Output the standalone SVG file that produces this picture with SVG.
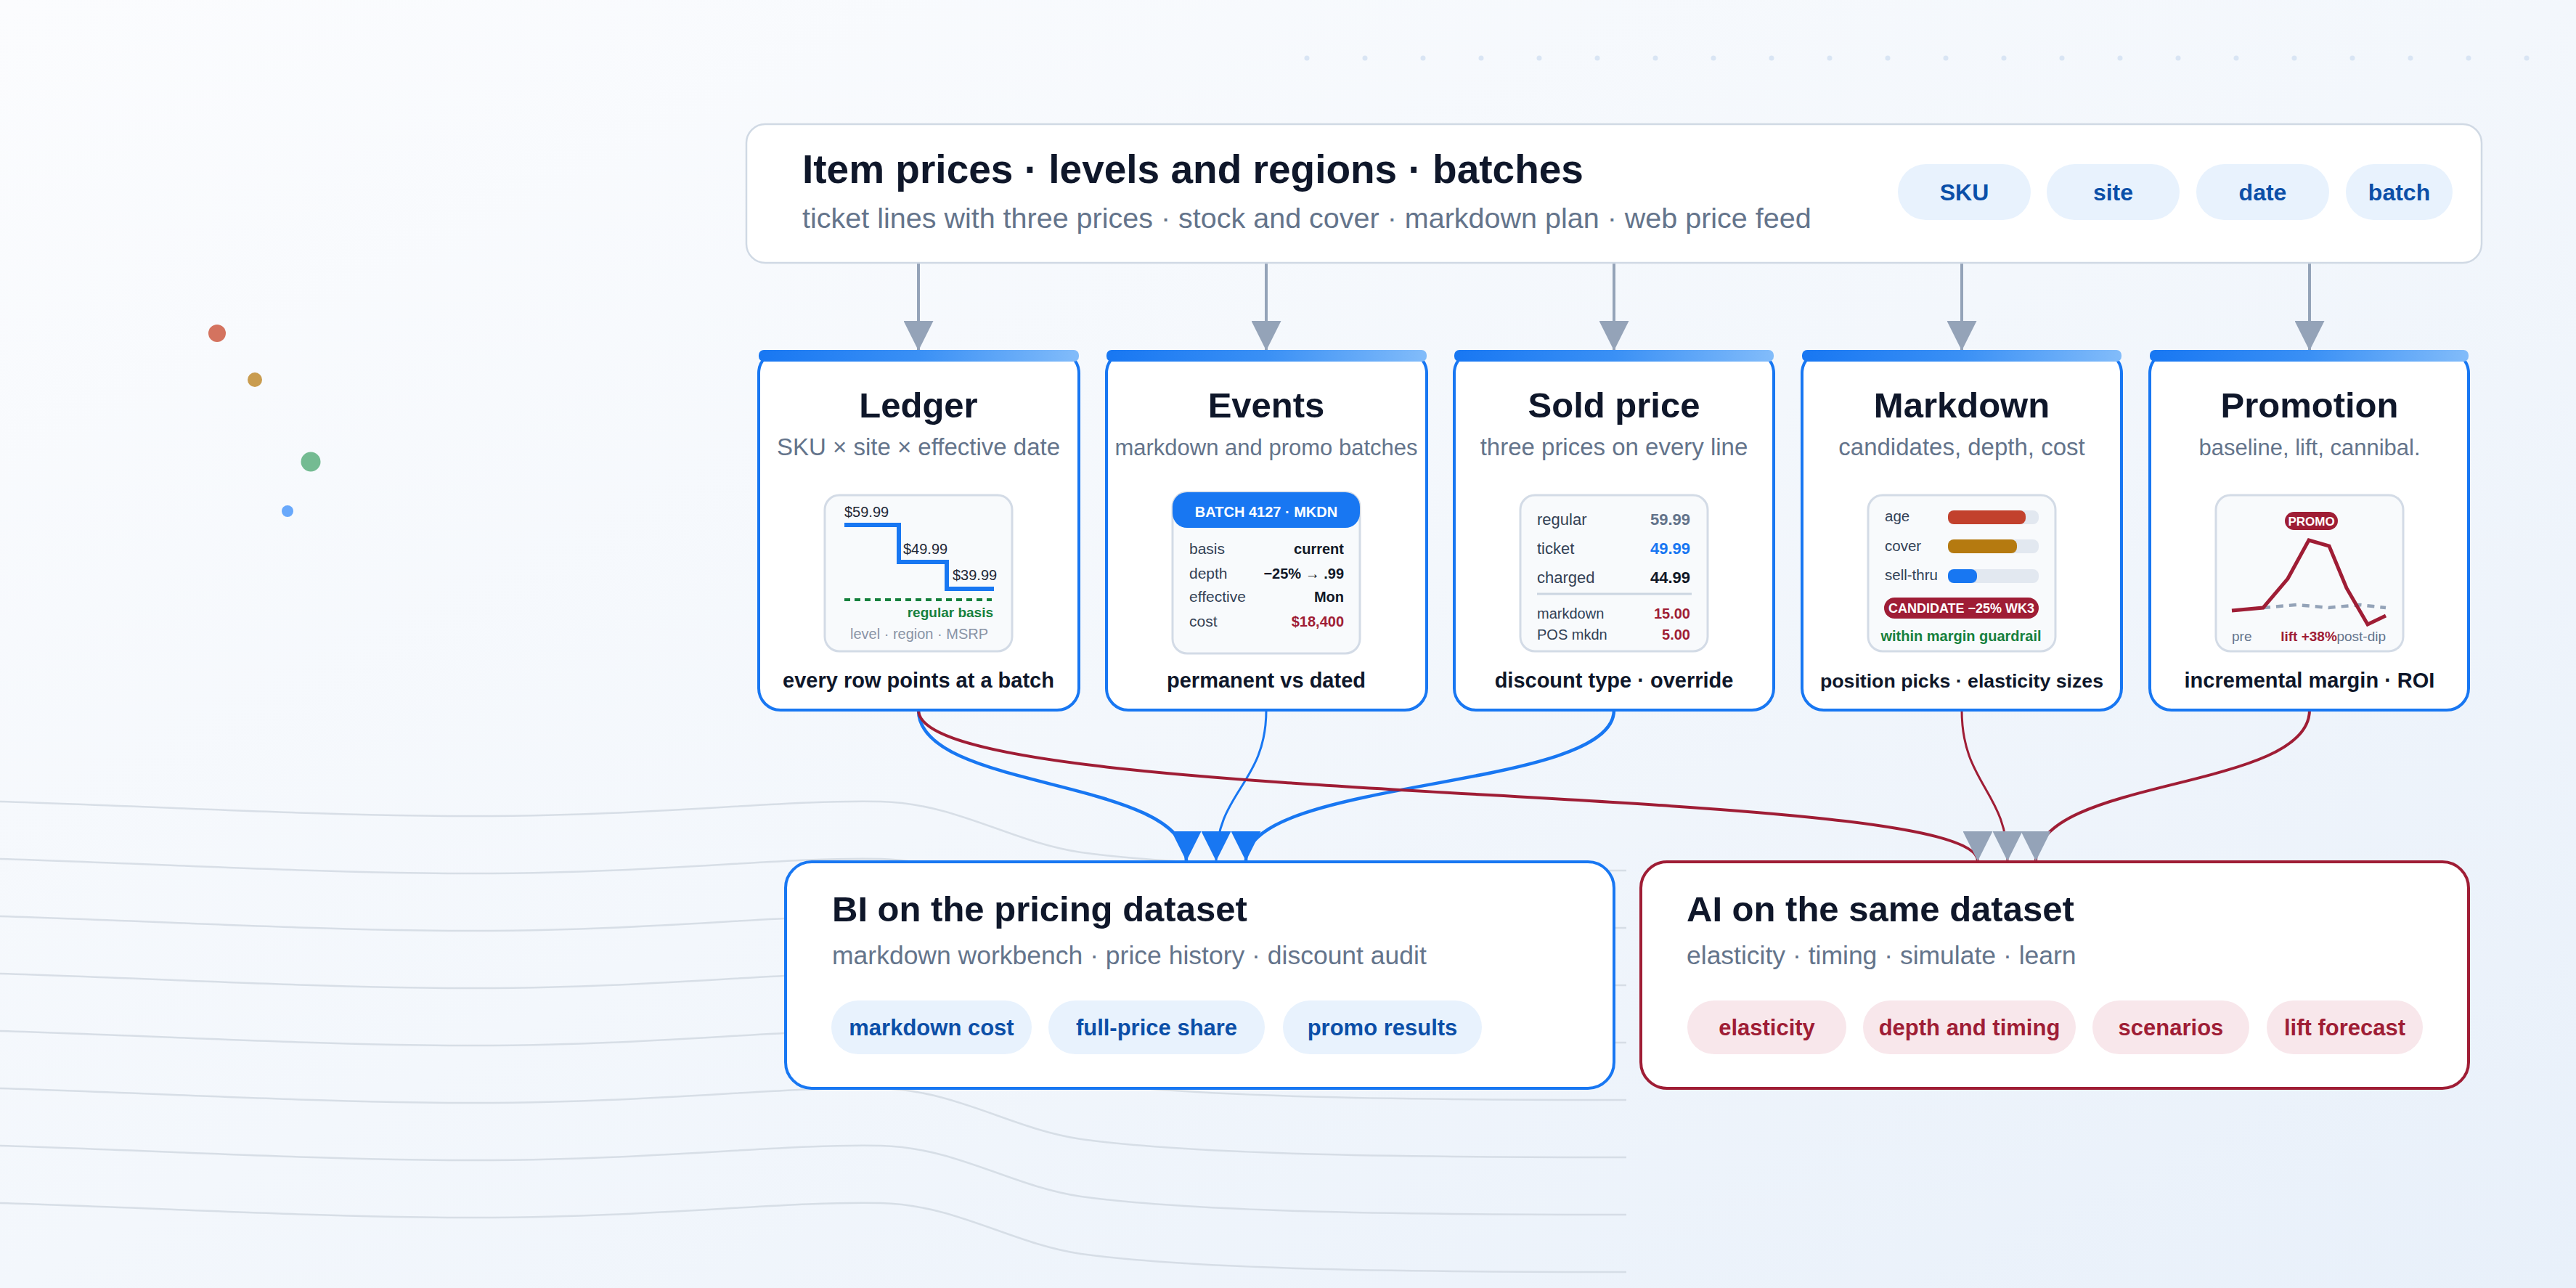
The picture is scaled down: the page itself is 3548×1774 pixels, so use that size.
<svg xmlns="http://www.w3.org/2000/svg" width="3548" height="1774" viewBox="0 0 3548 1774">
<defs>
<linearGradient id="bg" x1="0" y1="0" x2="1" y2="1">
<stop offset="0" stop-color="#fbfcfe"/>
<stop offset="0.5" stop-color="#f3f7fc"/>
<stop offset="1" stop-color="#e8f0fa"/>
</linearGradient>
<linearGradient id="bar" x1="0" y1="0" x2="1" y2="0">
<stop offset="0" stop-color="#1877f2"/>
<stop offset="0.5" stop-color="#3a90f5"/>
<stop offset="1" stop-color="#82bcfa"/>
</linearGradient>
<clipPath id="waveclip"><rect x="0" y="0" width="2240" height="1774"/></clipPath>
<marker id="ahGray" viewBox="0 0 10 10" markerUnits="userSpaceOnUse" markerWidth="41" markerHeight="41" refX="10" refY="5" orient="auto">
<path d="M0,0 L10,5 L0,10 z" fill="#94a3b8"/>
</marker>
<marker id="ahBlue" viewBox="0 0 10 10" markerUnits="userSpaceOnUse" markerWidth="41" markerHeight="41" refX="10" refY="5" orient="auto">
<path d="M0,0 L10,5 L0,10 z" fill="#1877f2"/>
</marker>
<path id="wv" d="M0,0 C250,8 450,20 650,20 C900,20 1080,-3 1213,0 C1320,3 1390,55 1489,70 C1650,92 1950,95 2240,95"/>
<style>
text { font-family: "Liberation Sans", Arial, Helvetica, sans-serif; }
.h1 { font-size: 55px; font-weight: 700; fill: #0f172a; }
.h1s { font-size: 39.5px; fill: #64748b; }
.chipb { fill: #e8f2fd; }
.chipr { fill: #f8e7eb; }
.chipbt { font-size: 32px; font-weight: 700; fill: #0b4fa8; text-anchor: middle; }
.chipbt2 { font-size: 31px; font-weight: 700; fill: #0b4fa8; text-anchor: middle; }
.chiprt { font-size: 31px; font-weight: 700; fill: #9f1d35; text-anchor: middle; }
.card { fill: #ffffff; stroke: #1877f2; stroke-width: 4; }
.bar { fill: url(#bar); }
.ct { font-size: 49px; font-weight: 700; fill: #0f172a; text-anchor: middle; }
.cs { fill: #64748b; text-anchor: middle; }
.cc { font-weight: 700; fill: #0f172a; text-anchor: middle; }
.panel { fill: #f8fafc; stroke: #d3dbe6; stroke-width: 3; }
.lbl { fill: #334155; }
.val { font-weight: 700; text-anchor: end; }
.bt { font-size: 49px; font-weight: 700; fill: #0f172a; }
.bs { font-size: 35.5px; fill: #64748b; }
.wave { fill: none; stroke: #cdd5df; stroke-width: 2.5; opacity: 0.75; }
.conn { fill: none; }
.top { stroke: #94a3b8; stroke-width: 4; marker-end: url(#ahGray); }
.blue { stroke: #1877f2; marker-end: url(#ahBlue); }
.crim { stroke: #9f1d35; marker-end: url(#ahGray); }
</style>
</defs>

<rect x="0" y="0" width="3548" height="1774" fill="url(#bg)"/>

<g id="decor-dots" fill="#d9e5f4">
<circle cx="1800" cy="80" r="3.5"/><circle cx="1880" cy="80" r="3.5"/><circle cx="1960" cy="80" r="3.5"/><circle cx="2040" cy="80" r="3.5"/><circle cx="2120" cy="80" r="3.5"/><circle cx="2200" cy="80" r="3.5"/><circle cx="2280" cy="80" r="3.5"/><circle cx="2360" cy="80" r="3.5"/><circle cx="2440" cy="80" r="3.5"/><circle cx="2520" cy="80" r="3.5"/><circle cx="2600" cy="80" r="3.5"/><circle cx="2680" cy="80" r="3.5"/><circle cx="2760" cy="80" r="3.5"/><circle cx="2840" cy="80" r="3.5"/><circle cx="2920" cy="80" r="3.5"/><circle cx="3000" cy="80" r="3.5"/><circle cx="3080" cy="80" r="3.5"/><circle cx="3160" cy="80" r="3.5"/><circle cx="3240" cy="80" r="3.5"/><circle cx="3320" cy="80" r="3.5"/><circle cx="3400" cy="80" r="3.5"/><circle cx="3480" cy="80" r="3.5"/>
</g>
<g id="decor-color-dots">
<circle cx="299" cy="459" r="12" fill="#d4735f"/>
<circle cx="351" cy="523" r="10" fill="#c99c4f"/>
<circle cx="428" cy="636" r="13.5" fill="#74bb92"/>
<circle cx="396" cy="704" r="8" fill="#68a8fb"/>
</g>
<g id="decor-waves" clip-path="url(#waveclip)">
<use href="#wv" class="wave" transform="translate(0,1104)"/>
<use href="#wv" class="wave" transform="translate(0,1183)"/>
<use href="#wv" class="wave" transform="translate(0,1262)"/>
<use href="#wv" class="wave" transform="translate(0,1341)"/>
<use href="#wv" class="wave" transform="translate(0,1420)"/>
<use href="#wv" class="wave" transform="translate(0,1499)"/>
<use href="#wv" class="wave" transform="translate(0,1578)"/>
<use href="#wv" class="wave" transform="translate(0,1657)"/>
</g>

<g id="connectors" class="conn">
<path class="top" d="M1265,362 L1265,483"/>
<path class="top" d="M1744,362 L1744,483"/>
<path class="top" d="M2223,362 L2223,483"/>
<path class="top" d="M2702,362 L2702,483"/>
<path class="top" d="M3181,362 L3181,483"/>
<path class="blue" stroke-width="4.5" d="M1265,978 C1265,1090 1634,1070 1634,1186"/>
<path class="blue" stroke-width="3" d="M1744,978 C1744,1080 1675,1090 1675,1186"/>
<path class="blue" stroke-width="4.5" d="M2223,978 C2223,1090 1716,1070 1716,1186"/>
<path class="crim" stroke-width="4" d="M1265,978 C1265,1115 2724,1075 2724,1186"/>
<path class="crim" stroke-width="3" d="M2702,978 C2702,1080 2765,1090 2765,1186"/>
<path class="crim" stroke-width="4" d="M3181,978 C3181,1090 2804,1070 2804,1186"/>
</g>

<g id="node-header">
<rect x="1028" y="171" width="2390" height="191" rx="26" fill="#ffffff" stroke="#d0d9e4" stroke-width="2.5"/>
<text class="h1" x="1105" y="252">Item prices · levels and regions · batches</text>
<text class="h1s" x="1105" y="314">ticket lines with three prices · stock and cover · markdown plan · web price feed</text>
<rect class="chipb" x="2614" y="226" width="183" height="77" rx="38.5"/>
<text class="chipbt" x="2705.5" y="276">SKU</text>
<rect class="chipb" x="2819" y="226" width="183" height="77" rx="38.5"/>
<text class="chipbt" x="2910.5" y="276">site</text>
<rect class="chipb" x="3025" y="226" width="183" height="77" rx="38.5"/>
<text class="chipbt" x="3116.5" y="276">date</text>
<rect class="chipb" x="3231" y="226" width="147" height="77" rx="38.5"/>
<text class="chipbt" x="3304.5" y="276">batch</text>
</g>

<g id="node-ledger">
<rect class="card" x="1045" y="484" width="441" height="494" rx="30"/>
<rect class="bar" x="1045" y="482" width="441" height="16" rx="7"/>
<text class="ct" x="1265" y="575">Ledger</text>
<text class="cs" x="1265" y="627" style="font-size:33px">SKU × site × effective date</text>
<rect class="panel" x="1136" y="682" width="258" height="215" rx="20"/>
<path d="M1163,723 H1238 V774 H1304 V811 H1369" fill="none" stroke="#1877f2" stroke-width="6"/>
<text x="1163" y="712" font-size="20" fill="#1f2937">$59.99</text>
<text x="1244" y="763" font-size="20" fill="#1f2937">$49.99</text>
<text x="1312" y="799" font-size="20" fill="#1f2937">$39.99</text>
<path d="M1163,826 H1366" stroke="#15803d" stroke-width="4" stroke-dasharray="8 6"/>
<text x="1368" y="850" font-size="19" font-weight="700" fill="#15803d" text-anchor="end">regular basis</text>
<text x="1266" y="880" font-size="20" fill="#8a94a6" text-anchor="middle">level · region · MSRP</text>
<text class="cc" x="1265" y="947" style="font-size:29px">every row points at a batch</text>
</g>

<g id="node-events">
<rect class="card" x="1524" y="484" width="441" height="494" rx="30"/>
<rect class="bar" x="1524" y="482" width="441" height="16" rx="7"/>
<text class="ct" x="1744" y="575">Events</text>
<text class="cs" x="1744" y="627" style="font-size:31px">markdown and promo batches</text>
<rect class="panel" x="1615" y="678" width="258" height="222" rx="20"/>
<rect x="1615" y="678" width="258" height="49" rx="20" fill="#1877f2"/>
<text x="1744" y="712" font-size="20" font-weight="700" fill="#ffffff" text-anchor="middle">BATCH 4127 · MKDN</text>
<text class="lbl" x="1638" y="763" style="font-size:21px">basis</text>
<text class="val" x="1851" y="763" style="font-size:20px;fill:#111827">current</text>
<text class="lbl" x="1638" y="797" style="font-size:21px">depth</text>
<text class="val" x="1851" y="797" style="font-size:20px;fill:#111827">−25% → .99</text>
<text class="lbl" x="1638" y="829" style="font-size:21px">effective</text>
<text class="val" x="1851" y="829" style="font-size:20px;fill:#111827">Mon</text>
<text class="lbl" x="1638" y="863" style="font-size:21px">cost</text>
<text class="val" x="1851" y="863" style="font-size:20px;fill:#9f1d35">$18,400</text>
<text class="cc" x="1744" y="947" style="font-size:29px">permanent vs dated</text>
</g>

<g id="node-sold">
<rect class="card" x="2003" y="484" width="440" height="494" rx="30"/>
<rect class="bar" x="2003" y="482" width="440" height="16" rx="7"/>
<text class="ct" x="2223" y="575">Sold price</text>
<text class="cs" x="2223" y="627" style="font-size:33px">three prices on every line</text>
<rect class="panel" x="2094" y="682" width="258" height="215" rx="20"/>
<text class="lbl" x="2117" y="723" style="font-size:22px">regular</text>
<text class="val" x="2328" y="723" style="font-size:22px;fill:#64748b">59.99</text>
<text class="lbl" x="2117" y="763" style="font-size:22px">ticket</text>
<text class="val" x="2328" y="763" style="font-size:22px;fill:#1877f2">49.99</text>
<text class="lbl" x="2117" y="803" style="font-size:22px">charged</text>
<text class="val" x="2328" y="803" style="font-size:22px;fill:#111827">44.99</text>
<path d="M2117,818 H2330" stroke="#cbd5e1" stroke-width="3"/>
<text class="lbl" x="2117" y="852" style="font-size:20px">markdown</text>
<text class="val" x="2328" y="852" style="font-size:20px;fill:#9f1d35">15.00</text>
<text class="lbl" x="2117" y="881" style="font-size:20px">POS mkdn</text>
<text class="val" x="2328" y="881" style="font-size:20px;fill:#9f1d35">5.00</text>
<text class="cc" x="2223" y="947" style="font-size:29px">discount type · override</text>
</g>

<g id="node-markdown">
<rect class="card" x="2482" y="484" width="440" height="494" rx="30"/>
<rect class="bar" x="2482" y="482" width="440" height="16" rx="7"/>
<text class="ct" x="2702" y="575">Markdown</text>
<text class="cs" x="2702" y="627" style="font-size:33px">candidates, depth, cost</text>
<rect class="panel" x="2573" y="682" width="258" height="215" rx="20"/>
<text class="lbl" x="2596" y="718" style="font-size:20.5px">age</text>
<rect x="2683" y="703" width="125" height="19" rx="8" fill="#e2e8f0"/>
<rect x="2683" y="703" width="107" height="19" rx="8" fill="#c2412d"/>
<text class="lbl" x="2596" y="759" style="font-size:20.5px">cover</text>
<rect x="2683" y="743" width="125" height="19" rx="8" fill="#e2e8f0"/>
<rect x="2683" y="743" width="95" height="19" rx="8" fill="#b57a10"/>
<text class="lbl" x="2596" y="799" style="font-size:20.5px">sell-thru</text>
<rect x="2683" y="784" width="125" height="19" rx="8" fill="#e2e8f0"/>
<rect x="2683" y="784" width="40" height="19" rx="8" fill="#1877f2"/>
<rect x="2595" y="823" width="213" height="29" rx="14.5" fill="#9f1d35"/>
<text x="2701.5" y="844" font-size="18" font-weight="700" fill="#ffffff" text-anchor="middle">CANDIDATE −25% WK3</text>
<text x="2701" y="883" font-size="20" font-weight="700" fill="#15803d" text-anchor="middle">within margin guardrail</text>
<text class="cc" x="2702" y="947" style="font-size:26.7px">position picks · elasticity sizes</text>
</g>

<g id="node-promotion">
<rect class="card" x="2961" y="484" width="439" height="494" rx="30"/>
<rect class="bar" x="2961" y="482" width="439" height="16" rx="7"/>
<text class="ct" x="3181" y="575">Promotion</text>
<text class="cs" x="3181" y="627" style="font-size:31px">baseline, lift, cannibal.</text>
<rect class="panel" x="3052" y="682" width="258" height="215" rx="20"/>
<rect x="3147" y="705" width="73" height="25" rx="12.5" fill="#9f1d35"/>
<text x="3183.5" y="724" font-size="17" font-weight="700" fill="#ffffff" text-anchor="middle">PROMO</text>
<path d="M3117,837 L3163,833 L3207,837 L3250,833 L3286,837" fill="none" stroke="#94a3b8" stroke-width="4.5" stroke-dasharray="10 8"/>
<path d="M3074,841 L3117,837 L3151,797 L3180,744 L3208,752 L3232,810 L3261,860 L3286,848" fill="none" stroke="#9f1d35" stroke-width="5"/>
<text x="3074" y="883" font-size="19" fill="#64748b">pre</text>
<text x="3180" y="883" font-size="19" font-weight="700" fill="#9f1d35" text-anchor="middle">lift +38%</text>
<text x="3286" y="883" font-size="19" fill="#64748b" text-anchor="end">post-dip</text>
<text class="cc" x="3181" y="947" style="font-size:29px">incremental margin · ROI</text>
</g>

<g id="node-bi">
<rect x="1082" y="1187" width="1141" height="312" rx="36" fill="#ffffff" stroke="#1877f2" stroke-width="4"/>
<text class="bt" x="1146" y="1269">BI on the pricing dataset</text>
<text class="bs" x="1146" y="1328">markdown workbench · price history · discount audit</text>
<rect class="chipb" x="1145" y="1378" width="276" height="74" rx="37"/>
<text class="chipbt2" x="1283" y="1426">markdown cost</text>
<rect class="chipb" x="1444" y="1378" width="298" height="74" rx="37"/>
<text class="chipbt2" x="1593" y="1426">full-price share</text>
<rect class="chipb" x="1767" y="1378" width="274" height="74" rx="37"/>
<text class="chipbt2" x="1904" y="1426">promo results</text>
</g>

<g id="node-ai">
<rect x="2260" y="1187" width="1140" height="312" rx="36" fill="#ffffff" stroke="#9f1d35" stroke-width="4"/>
<text class="bt" x="2323" y="1269">AI on the same dataset</text>
<text class="bs" x="2323" y="1328">elasticity · timing · simulate · learn</text>
<rect class="chipr" x="2324" y="1378" width="219" height="74" rx="37"/>
<text class="chiprt" x="2433.5" y="1426">elasticity</text>
<rect class="chipr" x="2566" y="1378" width="293" height="74" rx="37"/>
<text class="chiprt" x="2712.5" y="1426">depth and timing</text>
<rect class="chipr" x="2882" y="1378" width="216" height="74" rx="37"/>
<text class="chiprt" x="2990" y="1426">scenarios</text>
<rect class="chipr" x="3122" y="1378" width="215" height="74" rx="37"/>
<text class="chiprt" x="3229.5" y="1426">lift forecast</text>
</g>
</svg>
